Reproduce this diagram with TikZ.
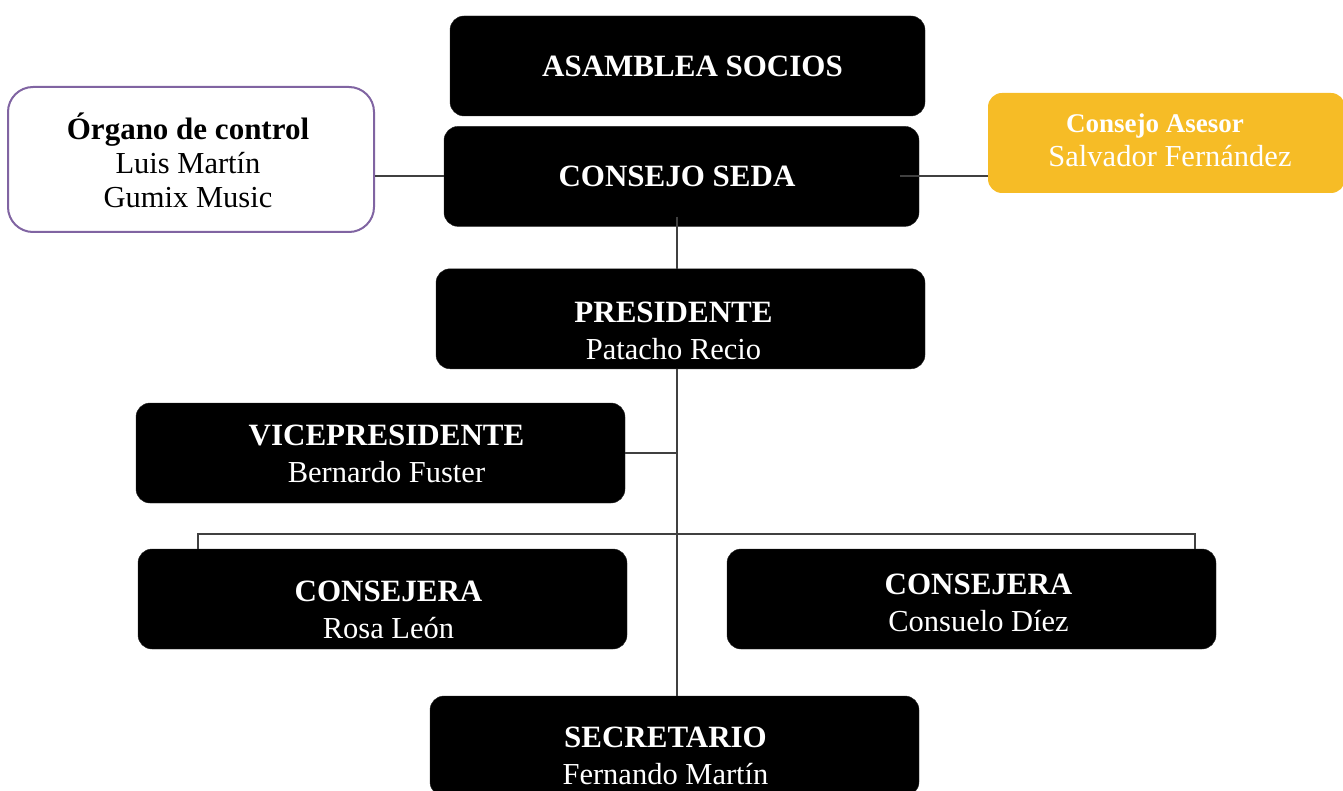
\documentclass[tikz,border=0pt]{standalone}
\usepackage{fontspec}
\setmainfont{Liberation Serif}
\usetikzlibrary{positioning}
\definecolor{linegray}{HTML}{404040}
\definecolor{lilac}{HTML}{8064A2}
\definecolor{gold}{HTML}{F6BC26}
\tikzset{
  basic/.style  = {rectangle, inner sep=0pt, minimum height=100pt},
  post/.style   = {basic, fill=black, draw=black!85, rounded corners=14pt, minimum width=489pt},
  head/.style   = {post, minimum width=475pt},
  control/.style = {basic, fill=white, draw=lilac, line width=2pt, rounded corners=25pt, minimum width=366pt, minimum height=145pt},
  advisor/.style = {basic, fill=gold, rounded corners=14pt, minimum width=357pt},
  txt/.style    = {align=center, text=white, inner sep=0pt, font=\fontsize{30.5}{37}\selectfont},
  link/.style   = {draw=linegray, line width=2pt}
}
\newcommand{\hd}[1]{{\fontsize{31}{37}\selectfont\bfseries #1}}

\begin{document}
\begin{tikzpicture}[x=1pt, y=-1pt]
\useasboundingbox (0,0) rectangle (1343,791);

% top of the chart
\node[head] (asamblea) at (687.5,66) {};
\node[head, below=10pt of asamblea, xshift=-6pt] (consejo) {};
\node[control] (organo) at (191,159.5) {};
\node[advisor] (asesor) at (1166.5,143) {};

% president and the board below
\node[post, below=42pt of consejo, xshift=-1pt] (pres) {};
\node[post] (vice) at (380.5,453) {};
\node[post] (consL) at (382.5,599) {};
\node[post] (consR) at (971.5,599) {};
\node[post] (sec) at (674.5,746) {};

% texts of the boxes
\node[txt, xshift=5pt] (asamblea-t) at (asamblea) {\hd{ASAMBLEA SOCIOS}};
\node[txt, xshift=-4.5pt] (consejo-t) at (consejo) {\hd{CONSEJO SEDA}};
\node[txt, text=black, font=\fontsize{30.5}{34}\selectfont, xshift=-3pt, yshift=-1pt] (organo-t) at (organo)
  {\hd{Órgano de control}\\Luis Martín\\Gumix Music};
\node[txt, font=\fontsize{30.5}{34}\selectfont, xshift=3.5pt, yshift=3pt] (asesor-t) at (asesor)
  {{\fontsize{27}{34}\selectfont\bfseries Consejo Asesor}\hspace*{30pt}\\Salvador Fernández};
\node[txt, xshift=-7pt, yshift=-12pt] (pres-t) at (pres) {\hd{PRESIDENTE}\\Patacho Recio};
\node[txt, xshift=6pt, yshift=-1pt] (vice-t) at (vice) {\hd{VICEPRESIDENTE}\\Bernardo Fuster};
\node[txt, xshift=6pt, yshift=-11pt] (consL-t) at (consL) {\hd{CONSEJERA}\\Rosa León};
\node[txt, xshift=7pt, yshift=-4pt] (consR-t) at (consR) {\hd{CONSEJERA}\\Consuelo Díez};
\node[txt, xshift=-9pt, yshift=-10pt] (sec-t) at (sec) {\hd{SECRETARIO}\\Fernando Martín};

% connectors
\coordinate (trunk) at (677,454);
\coordinate (busL) at (198,534);
\coordinate (busR) at (1195,534);
\draw[link] (consejo.west) -- (consejo.west -| organo.east);
\draw[link] ([xshift=-19pt]consejo.east) -- (consejo.east -| asesor.west);
\draw[link] ([yshift=10pt]consejo.south -| trunk) -- (pres.north -| trunk);
\draw[link] (pres.south -| trunk) -- (sec.north -| trunk);
\draw[link] (vice.east) -- (vice.east -| trunk);
\draw[link] (consL.north -| busL) -- (busL) -- (busR) -- (consR.north -| busR);
\end{tikzpicture}
\end{document}
